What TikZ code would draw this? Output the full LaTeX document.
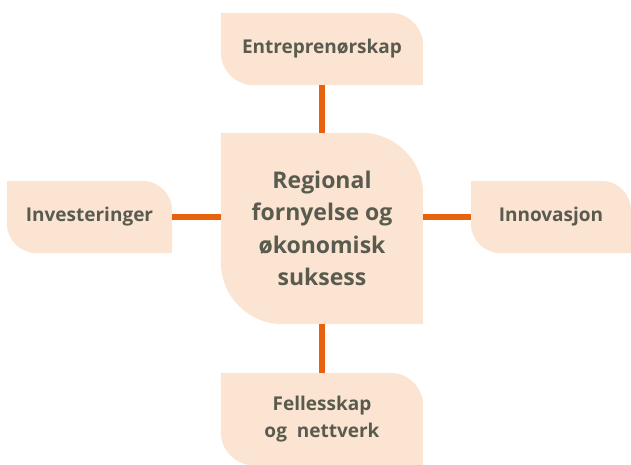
\documentclass[tikz,border=0pt]{standalone}
\usepackage{fontspec}
\setmainfont{Open Sans}
\usetikzlibrary{backgrounds,calc}
\definecolor{boxfill}{HTML}{FCE4D2}
\definecolor{conncol}{HTML}{E8620E}
\definecolor{txtcol}{HTML}{595B4F}
\newcommand\leaffill[2]{%
  \fill[boxfill] (#1.north west) -- ([xshift=-#2]#1.north east)
    arc[start angle=90,end angle=0,radius=#2] -- (#1.south east)
    -- ([xshift=#2]#1.south west)
    arc[start angle=270,end angle=180,radius=#2] -- cycle;}
\begin{document}
\begin{tikzpicture}[x=1pt,y=1pt,
  boxnode/.style={rectangle,inner sep=0pt,align=center,text=txtcol,
    font=\fontsize{19}{27}\selectfont\bfseries},
  conn/.style={draw=conncol,line width=5.5pt}]
\useasboundingbox (0,0) rectangle (631,465);
\node[boxnode,minimum width=202pt,minimum height=72pt] (top) at (322,416) {Entreprenørskap};
\node[boxnode,minimum width=202pt,minimum height=191pt,
  font=\fontsize{23}{32.5}\selectfont\bfseries] (center) at (322,236.5)
  {Regional\\fornyelse og\\økonomisk\\suksess};
\node[boxnode,minimum width=165pt,minimum height=72pt] (left) at (89.5,248) {Investeringer};
\node[boxnode,minimum width=160pt,minimum height=72pt] (right) at (551,248) {Innovasjon};
\node[boxnode,minimum width=202pt,minimum height=92pt] (bottom) at (322,46)
  {Fellesskap\\og\ \ nettverk};
\begin{scope}[on background layer]
  \leaffill{top}{33pt}
  \leaffill{center}{62pt}
  \leaffill{left}{30pt}
  \leaffill{right}{30pt}
  \leaffill{bottom}{33pt}
  \draw[conn] (top.south) -- (center.north);
  \draw[conn] (center.south) -- (bottom.north);
  \draw[conn] (left.east) -- (left.east -| center.west);
  \draw[conn] (right.west) -- (right.west -| center.east);
\end{scope}
\end{tikzpicture}
\end{document}
